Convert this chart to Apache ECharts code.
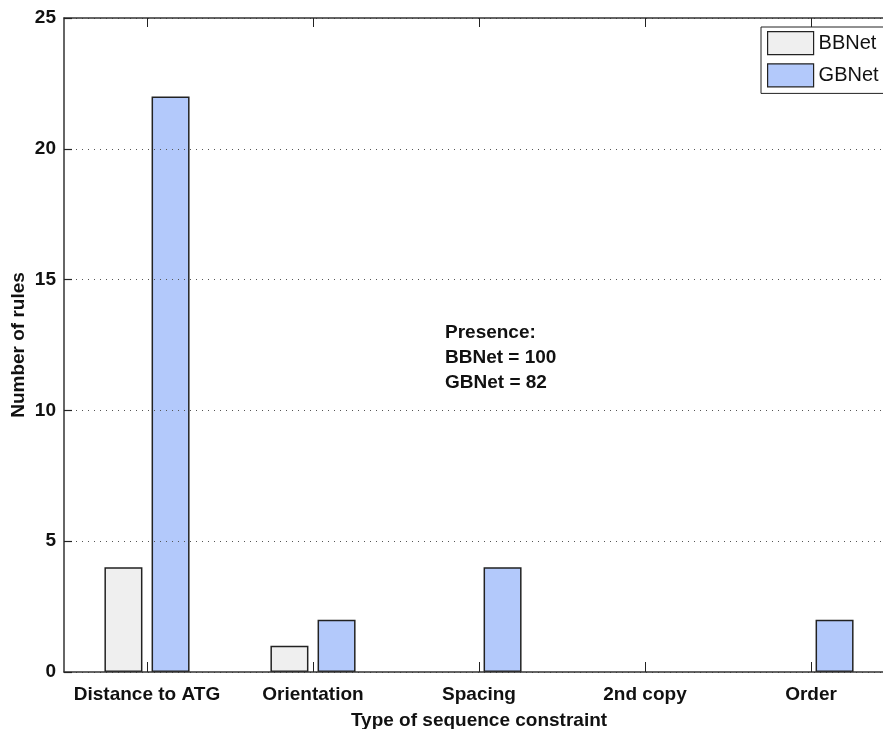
<!DOCTYPE html>
<html>
<head>
<meta charset="utf-8">
<script src="https://cdn.jsdelivr.net/npm/echarts@6/dist/echarts.min.js"></script>
<style>html,body{margin:0;padding:0;background:#fff;}#c{width:883px;height:729px;}</style>
</head>
<body>
<div id="c"></div>
<script>
const categories = ['Distance to ATG', 'Orientation', 'Spacing', '2nd copy', 'Order'];
const bbnet = [4, 1, 0, 0, 0];
const gbnet = [22, 2, 4, 0, 2];
const yTicks = [0, 5, 10, 15, 20, 25];
const noteLines = ['Presence:', 'BBNet = 100', 'GBNet = 82'];

const FONT = 'Liberation Sans';
const hideZero = arr => arr.map(v => (v === 0 ? null : v));
const chart = echarts.init(document.getElementById('c'));
chart.setOption({
  animation: false,
  backgroundColor: '#fff',
  grid: { left: 64, right: -11, top: 18, bottom: 57, containLabel: false, outerBoundsMode: 'none' },
  legend: {
    orient: 'vertical', left: 761, top: 27,
    data: ['BBNet', 'GBNet'],
    icon: 'rect',
    itemWidth: 46, itemHeight: 23, itemGap: 8,
    padding: [4, 30, 6, 6],
    borderColor: '#222', borderWidth: 1, backgroundColor: '#fff',
    textStyle: { fontFamily: FONT, fontSize: 20, color: '#111' },
    itemStyle: { borderColor: '#222', borderWidth: 1.2 }
  },
  xAxis: [{
    type: 'category', data: categories, position: 'bottom',
    axisLine: { lineStyle: { color: '#333', width: 1.5 } },
    axisTick: { show: true, inside: true, alignWithLabel: true, length: 10, lineStyle: { color: '#222', width: 1 } },
    axisLabel: { interval: 0, fontFamily: FONT, fontSize: 19, fontWeight: 'bold', color: '#111', margin: 13 },
    name: 'Type of sequence constraint', nameLocation: 'middle', nameGap: 39,
    nameTextStyle: { fontFamily: FONT, fontSize: 19, fontWeight: 'bold', color: '#111' },
    z: 5
  }, {
    type: 'category', data: categories, position: 'top',
    axisLine: { lineStyle: { color: '#333', width: 1.5 } },
    axisTick: { show: true, inside: true, alignWithLabel: true, length: 9, lineStyle: { color: '#222', width: 1 } },
    axisLabel: { show: false },
    z: 5
  }],
  yAxis: {
    type: 'value', min: yTicks[0], max: yTicks[yTicks.length - 1], interval: 5,
    axisLine: { show: true, lineStyle: { color: '#333', width: 1.5 } },
    axisTick: { show: true, inside: true, length: 8, lineStyle: { color: '#222', width: 1.2 } },
    axisLabel: { fontFamily: FONT, fontSize: 19, fontWeight: 'bold', color: '#111', margin: 8 },
    splitLine: { show: true, lineStyle: { type: [1, 5], color: '#555', width: 1.2 } },
    name: 'Number of rules', nameLocation: 'middle', nameGap: 36, nameMoveOverlap: false,
    nameTextStyle: { fontFamily: FONT, fontSize: 19, fontWeight: 'bold', color: '#111' },
    z: 5
  },
  series: [{
    name: 'BBNet', type: 'bar', data: hideZero(bbnet), barWidth: 38, barGap: '24%',
    itemStyle: { color: '#efefef', borderColor: '#222', borderWidth: 1.5 }
  }, {
    name: 'GBNet', type: 'bar', data: hideZero(gbnet), barWidth: 38, barGap: '24%',
    itemStyle: { color: '#b3c9fb', borderColor: '#222', borderWidth: 1.5 }
  }],
  graphic: noteLines.map((t, i) => ({
    type: 'text', left: 445, top: 323 + i * 25,
    style: { text: t, fontFamily: FONT, fontSize: 19, fontWeight: 'bold', fill: '#111' }
  }))
});
</script>
</body>
</html>
